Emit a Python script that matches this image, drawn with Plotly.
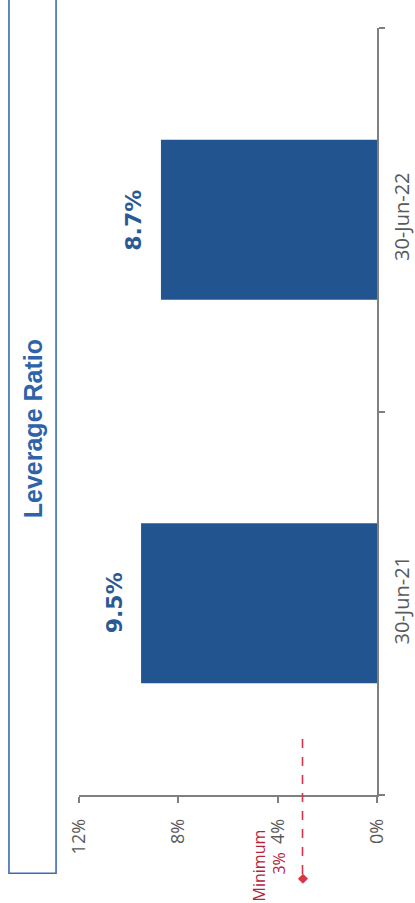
import plotly.graph_objects as go

# ---- data ----
categories = ["30-Jun-21", "30-Jun-22"]
leverage_ratio = [9.5, 8.7]
bar_labels = ["9.5%", "8.7%"]
tick_values = [0, 4, 8, 12]
tick_labels = ["0%", "4%", "8%", "12%"]
minimum_ratio = 3.0
minimum_label_lines = ["Minimum", "3%"]
title_text = "Leverage Ratio"

BAR = "#22548f"
LABEL = "#2a5a93"
AXIS = "#7f7f7f"
TICKTXT = "#595959"
RED = "#d8354a"
DARKRED = "#b3243c"
TITLEBLUE = "#2e63aa"

fig = go.Figure()
fig.add_trace(go.Bar(
    x=leverage_ratio, y=categories, orientation="h",
    marker=dict(color=BAR, line=dict(width=0)),
    hoverinfo="skip", showlegend=False,
))

annotations = []
for c, v, t in zip(categories, leverage_ratio, bar_labels):
    annotations.append(dict(
        x=v, y=c, xref="x", yref="y", text=t, showarrow=False,
        textangle=-90, xanchor="center", yanchor="middle", xshift=-27,
        font=dict(family="DejaVu Sans", size=22, color=LABEL, weight="bold"),
    ))

# minimum reference marker (diamond) and label
annotations.append(dict(
    x=minimum_ratio, y=-0.107, xref="x", yref="paper", text="◆",
    showarrow=False, xanchor="center", yanchor="middle",
    font=dict(family="DejaVu Sans", size=13, color=RED),
))
annotations.append(dict(
    x=minimum_ratio, y=-0.0925, xref="x", yref="paper", text=minimum_label_lines[0],
    showarrow=False, textangle=-90, xanchor="center", yanchor="middle",
    xshift=-44,
    font=dict(family="Open Sans", size=16, color=DARKRED),
))
annotations.append(dict(
    x=minimum_ratio, y=-0.09, xref="x", yref="paper", text=minimum_label_lines[1],
    showarrow=False, textangle=-90, xanchor="center", yanchor="middle",
    xshift=-23,
    font=dict(family="Open Sans", size=16, color=DARKRED),
))
# title
annotations.append(dict(
    x=-0.154, y=0.477, xref="paper", yref="paper", text=title_text,
    showarrow=False, textangle=-90, xanchor="center", yanchor="middle",
    font=dict(family="Liberation Sans, Arial", size=25, color=TITLEBLUE, weight="bold"),
))

shapes = [
    dict(type="line", xref="x", yref="paper", x0=minimum_ratio, x1=minimum_ratio,
         y0=0.073, y1=-0.104, line=dict(color=RED, width=1.6, dash="dash")),
    dict(type="rect", xref="paper", yref="paper", x0=-0.235, x1=-0.077,
         y0=-0.102, y1=1.06, line=dict(color="#3a6cb4", width=1.6),
         fillcolor="rgba(0,0,0,0)"),
]

fig.update_layout(
    width=415, height=903,
    margin=dict(l=79, r=38, t=28, b=108, autoexpand=False),
    paper_bgcolor="white", plot_bgcolor="white",
    bargap=0.583,
    annotations=annotations, shapes=shapes,
    xaxis=dict(
        range=[12, 0], tickmode="array", tickvals=tick_values, ticktext=tick_labels,
        showgrid=False, zeroline=False, showline=True, linecolor=AXIS, linewidth=1.5,
        ticks="outside", ticklen=6, tickcolor=AXIS, tickwidth=1.5, tickangle=-90,
        ticklabelstandoff=9, automargin=False,
        tickfont=dict(family="Open Sans", size=18, color=TICKTXT),
        fixedrange=True,
    ),
    yaxis=dict(
        type="category", categoryorder="array", categoryarray=categories,
        side="right", showgrid=False, zeroline=False, showline=True,
        linecolor=AXIS, linewidth=1.5, ticks="outside", ticklen=6,
        tickcolor=AXIS, tickwidth=1.5, tickson="boundaries", tickangle=-90,
        ticklabelstandoff=6, automargin=False,
        tickfont=dict(family="Open Sans", size=20, color=TICKTXT),
        fixedrange=True,
    ),
)

fig.write_html("out.html")
